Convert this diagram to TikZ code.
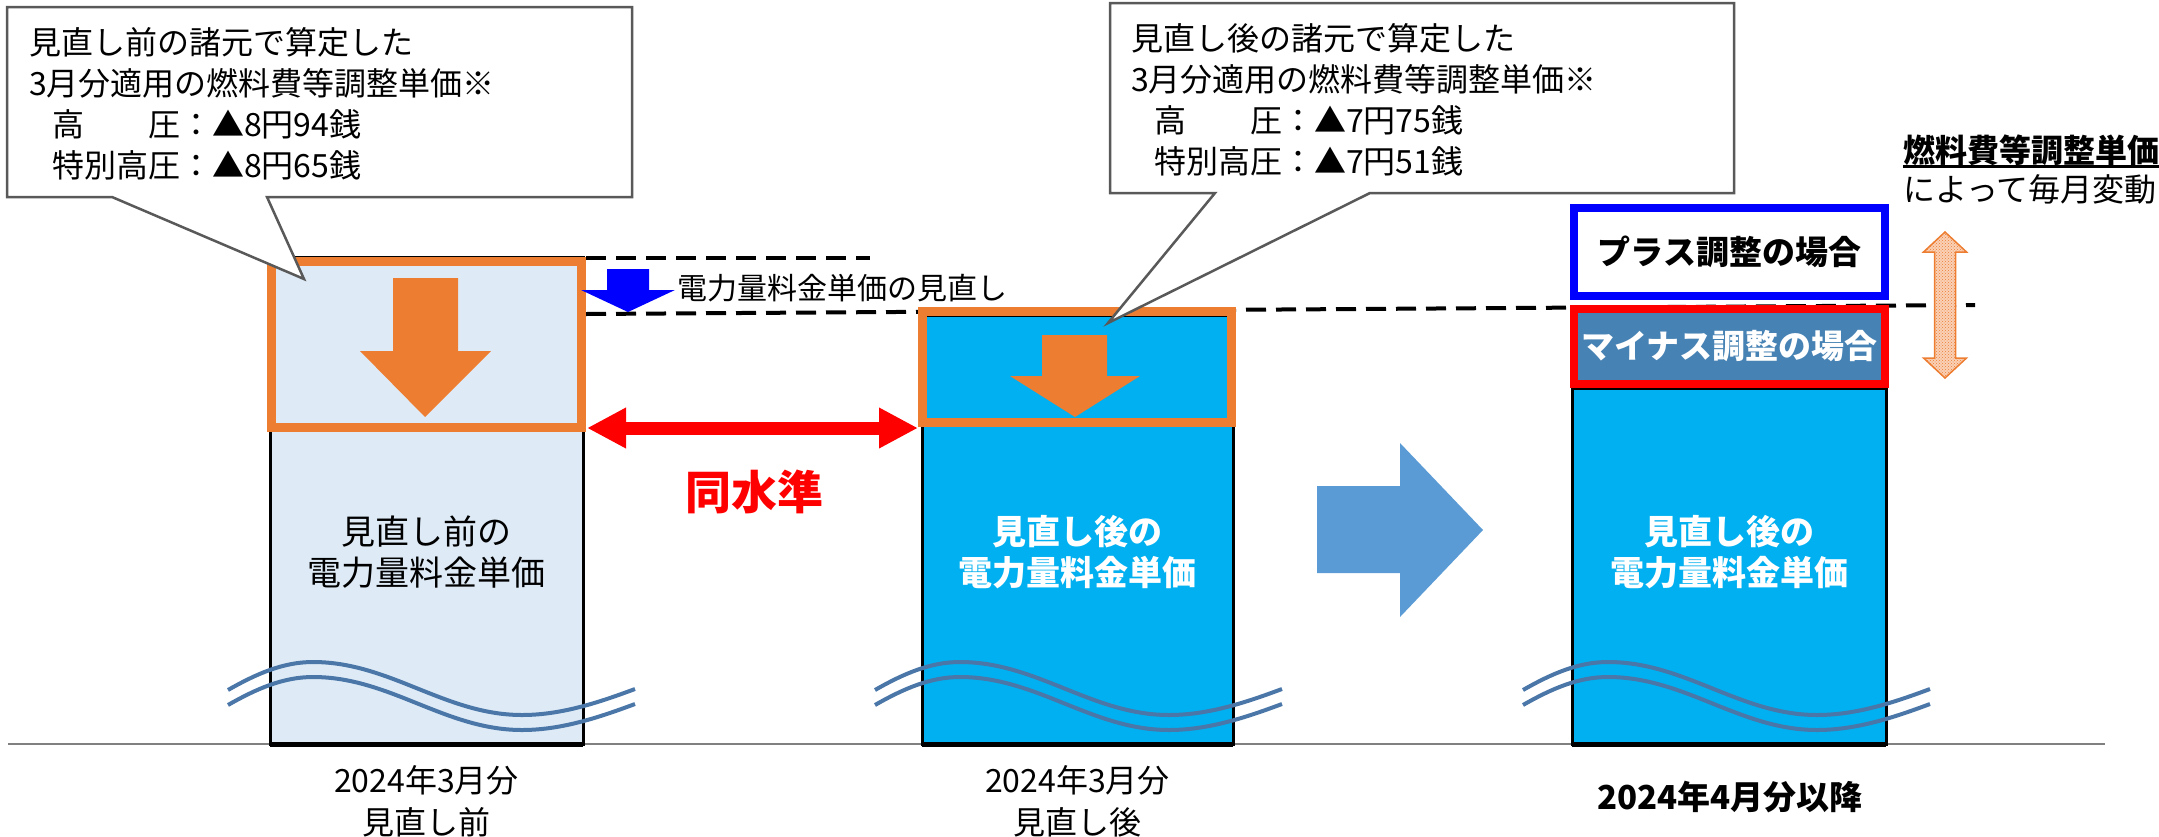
\documentclass[tikz,border=0pt]{standalone}
\usepackage{fontspec}
\setmainfont{Noto Sans CJK JP}
\usetikzlibrary{patterns,arrows.meta}
\definecolor{corange}{HTML}{ED7D31}
\definecolor{clight}{HTML}{DEEBF7}
\definecolor{ccyan}{HTML}{00B0F0}
\definecolor{cbigarrow}{HTML}{5B9BD5}
\definecolor{csteel}{HTML}{4682B4}
\definecolor{cwave}{HTML}{4A76A8}
\definecolor{ccall}{HTML}{595959}
\definecolor{caxis}{HTML}{808080}
\begin{document}
\begin{tikzpicture}[x=1pt,y=-1pt,
  barbox/.style={draw=black,line width=3pt,inner sep=0pt,outer sep=0pt},
  framebox/.style={draw,line width=9pt,inner sep=0pt,outer sep=0pt},
  calloutline/.style={draw=ccall,line width=2.5pt,fill=white,line join=miter},
  calltext/.style={anchor=west,align=left,inner sep=0pt,font=\fontsize{32}{41}\selectfont},
  bartext/.style={align=center,inner sep=0pt,font=\fontsize{34}{41}\selectfont},
  dashline/.style={line width=4pt,dash pattern=on 20pt off 10pt},
  wavestyle/.style={draw=cwave,line width=4pt},
  wave/.pic={
    \draw[wavestyle] (0,0) .. controls (28,-16) and (55,-28) .. (85,-28) .. controls (162,-28) and (217,25) .. (294,25) .. controls (334,25) and (372,12) .. (407,-1);
    \draw[wavestyle] (0,15) .. controls (28,-1) and (55,-13) .. (85,-13) .. controls (162,-13) and (217,40) .. (294,40) .. controls (334,40) and (372,27) .. (407,14);
  },
]
\useasboundingbox (0,0) rectangle (2159,836);

% guide lines
\draw[dashline] (586,258) -- (870,258);
\draw[dashline] (586,314) -- (1975,305);

% axis
\draw[caxis,line width=2pt] (8,744) -- (2105,744);

% bars
\node[barbox,fill=clight,minimum width=313pt,minimum height=487pt] (b1) at (426.5,500.5) {};
\node[barbox,fill=ccyan,minimum width=311pt,minimum height=429pt] (b2) at (1077.5,529.5) {};
\node[barbox,fill=ccyan,minimum width=314pt,minimum height=356pt] (b3) at (1729,566) {};
\draw[line width=5pt] (b1.south west) -- (b1.south east);
\draw[line width=5pt] (b2.south west) -- (b2.south east);
\draw[line width=5pt] (b3.south west) -- (b3.south east);

% orange frames
\node[framebox,draw=corange,minimum width=310pt,minimum height=166pt] (o1) at (426.5,344.5) {};
\node[framebox,draw=corange,minimum width=309pt,minimum height=111pt] (o2) at (1077,367) {};

% bar 3 boxes
\node[framebox,line width=8pt,draw=blue,fill=white,minimum width=311pt,minimum height=88pt,font=\bfseries\fontsize{33}{38}\selectfont] (pb) at (1729.5,252) {プラス調整の場合};
\node[framebox,line width=8pt,draw=red,fill=csteel,text=white,minimum width=311pt,minimum height=75pt,font=\bfseries\fontsize{33}{38}\selectfont] (mb) at (1729.5,346.5) {マイナス調整の場合};

% down arrows inside frames
\fill[corange] (393,278) -- (458,278) -- (458,351) -- (491,351) -- (425,417) -- (360,351) -- (393,351) -- cycle;
\fill[corange] (1042,335) -- (1107,335) -- (1107,376) -- (1140,376) -- (1075,417) -- (1010,376) -- (1042,376) -- cycle;

% small blue arrow and label
\fill[blue] (607,269) -- (649,269) -- (649,290) -- (675,290) -- (628,312) -- (581,290) -- (607,290) -- cycle;
\node[anchor=west,inner sep=0pt,font=\fontsize{30}{36}\selectfont] (rev) at (677,288) {電力量料金単価の見直し};

% red double arrow
\coordinate (ra) at (587,428);
\coordinate (rb) at (918,428);
\draw[red,line width=13pt,{Triangle[length=39pt,width=38pt]}-{Triangle[length=39pt,width=38pt]}] (ra) -- (rb);
\node[text=red,inner sep=0pt,font=\bfseries\fontsize{46}{50}\selectfont] (same) at (754,492) {同水準};

% big arrow
\fill[cbigarrow] (1317,486) -- (1400,486) -- (1400,443) -- (1483,530) -- (1400,617) -- (1400,573) -- (1317,573) -- cycle;

% bar texts
\node[bartext] (t1) at (426.5,552.5) {見直し前の\\電力量料金単価};
\node[bartext,text=white,font=\bfseries\fontsize{34}{41}\selectfont] (t2) at (1077.5,552.5) {見直し後の\\電力量料金単価};
\node[bartext,text=white,font=\bfseries\fontsize{34}{41}\selectfont] (t3) at (1729,552.5) {見直し後の\\電力量料金単価};

% waves
\pic at (228,690) {wave};
\pic at (875,690) {wave};
\pic at (1523,690) {wave};

% bottom labels
\node[bartext,font=\fontsize{32}{42}\selectfont] (l1) at (426.5,801) {2024年3月分\\見直し前};
\node[bartext,font=\fontsize{32}{42}\selectfont] (l2) at (1077.5,801) {2024年3月分\\見直し後};
\node[bartext,font=\bfseries\fontsize{33}{42}\selectfont] (l3) at (1730,797) {2024年4月分以降};

% callouts
\draw[calloutline] (7,7) -- (632,7) -- (632,197) -- (267,197) -- (304,279) -- (112,197) -- (7,197) -- cycle;
\node[calltext] (c1) at (29,103.5) {見直し前の諸元で算定した\\3月分適用の燃料費等調整単価※\\\hspace*{23pt}高　　圧：▲8円94銭\\\hspace*{23pt}特別高圧：▲8円65銭};
\draw[calloutline] (1110,3) -- (1734,3) -- (1734,193) -- (1370,193) -- (1108,323) -- (1215,193) -- (1110,193) -- cycle;
\node[calltext] (c2) at (1131,100) {見直し後の諸元で算定した\\3月分適用の燃料費等調整単価※\\\hspace*{23pt}高　　圧：▲7円75銭\\\hspace*{23pt}特別高圧：▲7円51銭};

% right annotation
\node[inner sep=0pt,font=\bfseries\fontsize{32}{38}\selectfont] (h1) at (2031,150) {燃料費等調整単価};
\draw[line width=3pt] (h1.west |- 0,166) -- (h1.east |- 0,166);
\node[inner sep=0pt,font=\fontsize{32}{38}\selectfont] (h2) at (2030,189) {によって毎月変動};

% orange up-down arrow
\draw[corange,line width=1.5pt,preaction={fill=corange!35},pattern=crosshatch dots,pattern color=corange] (1945,232) -- (1966.5,252) -- (1955.5,252) -- (1955.5,358) -- (1966.5,358) -- (1945,378) -- (1923.5,358) -- (1934.5,358) -- (1934.5,252) -- (1923.5,252) -- cycle;
\end{tikzpicture}
\end{document}
